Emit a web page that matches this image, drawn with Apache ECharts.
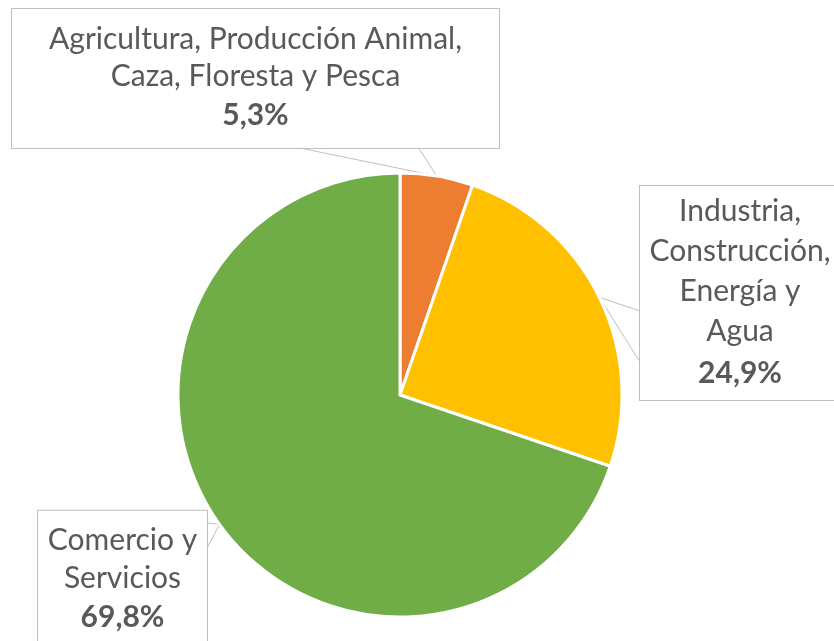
<!DOCTYPE html>
<html>
<head>
<meta charset="utf-8">
<script src="https://cdn.jsdelivr.net/npm/echarts@6/dist/echarts.min.js"></script>
<style>
  html, body { margin: 0; padding: 0; background: #fff; }
  #chart { width: 834px; height: 641px; }
</style>
</head>
<body>
<div id="chart"></div>
<script>
// datos del gráfico
var sectorNames = ['Agricultura, Producción Animal,\nCaza, Floresta y Pesca', 'Industria,\nConstrucción,\nEnergía y\nAgua', 'Comercio y\nServicios'];
var sectorValues = [5.3, 24.9, 69.8];
var sectorColors = ['#ED7D31', '#FFC000', '#70AD47'];

// caja de cada etiqueta: centro, ancho, alto de línea, padding vertical, base del puntero
var boxes = [
    { cx: 255.5, cy: 78.5, w: 487, lh: 37, pv: 12, base: [[295, 147], [418, 147]] },
    { cx: 740, cy: 293, w: 200, lh: 40, pv: 5, base: [[640, 311], [640, 362]] },
    { cx: 122.5, cy: 580, w: 169, lh: 37.5, pv: 11, base: [[207, 523], [207, 548]] }
];

var fmt = function(v) {
    return v.toFixed(1).replace('.', ',') + '%';
};

var myChart = echarts.init(document.getElementById('chart'), null, { renderer: 'canvas' });

var _data = [];
sectorValues.forEach(function(v, i) {
    let b = boxes[i];
    _data.push({
        value: v,
        name: sectorNames[i],
        itemStyle: { color: sectorColors[i] },
        label: {
            width: b.w - 2,
            padding: [b.pv, 1, b.pv, 1],
            rich: {
                n: { fontSize: 30, lineHeight: b.lh, color: '#595959', fontFamily: 'Lato', align: 'center' },
                v: { fontSize: 30, lineHeight: b.lh + 4, color: '#595959', fontFamily: 'Lato', fontWeight: 'bold', align: 'center' }
            }
        }
    });
});

var option = {
    animation: false,
    backgroundColor: '#ffffff',
    series: [{
        type: 'pie',
        center: [400, 395],
        radius: 222,
        startAngle: 90,
        clockwise: true,
        data: _data,
        itemStyle: { borderColor: '#ffffff', borderWidth: 3 },
        emphasis: { disabled: true },
        label: {
            show: true,
            position: 'outside',
            backgroundColor: '#ffffff',
            borderColor: '#BFBFBF',
            borderWidth: 1,
            align: 'center',
            formatter: function(p) {
                let lines = p.name.split('\n').map(function(s) { return '{n|' + s + '}'; });
                lines.push('{v|' + fmt(p.value) + '}');
                return lines.join('\n');
            }
        },
        labelLine: {
            show: true,
            lineStyle: { color: '#BFBFBF', width: 1 }
        },
        labelLayout: function(params) {
            let b = boxes[params.dataIndex];
            let tip = params.labelLinePoints ? params.labelLinePoints[0] : b.base[0];
            return {
                x: b.cx,
                y: b.cy,
                align: 'center',
                verticalAlign: 'middle',
                labelLinePoints: [b.base[0], tip, b.base[1]]
            };
        }
    }]
};

myChart.setOption(option, true);
</script>
</body>
</html>
